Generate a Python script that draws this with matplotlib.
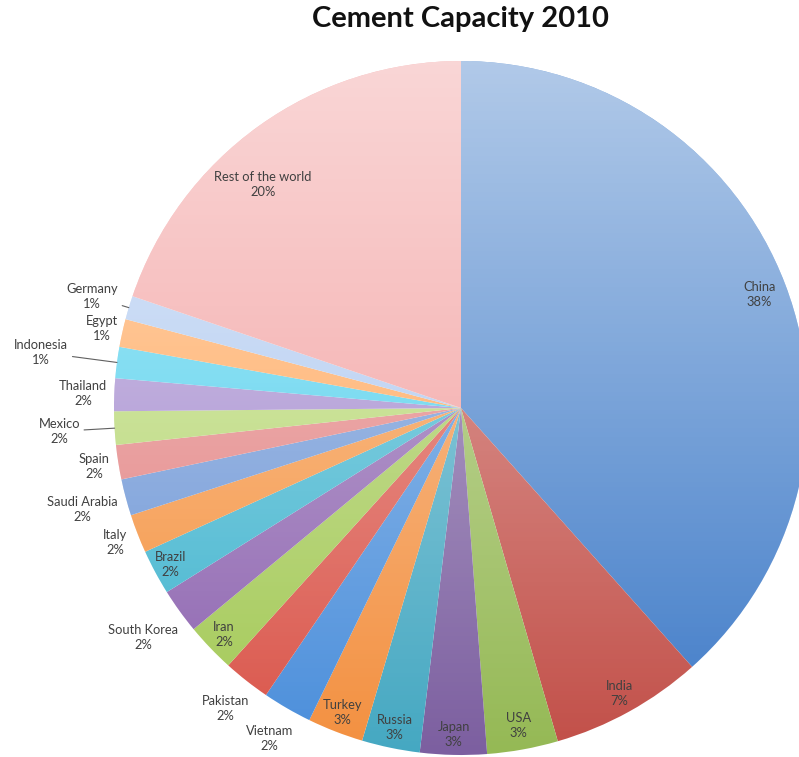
import numpy as np
import matplotlib
matplotlib.use("Agg")
import matplotlib.pyplot as plt
from matplotlib.patches import Circle

# cement capacity share by country, 2010 (% of world total)
countries = ["China", "India", "USA", "Japan", "Russia", "Turkey", "Vietnam",
             "Pakistan", "Iran", "South Korea", "Brazil", "Italy", "Saudi Arabia",
             "Spain", "Mexico", "Thailand", "Indonesia", "Egypt", "Germany",
             "Rest of the world"]
share = [38.4, 7.1, 3.3, 3.1, 2.7, 2.6, 2.3,
         2.2, 2.3, 2.1, 2.1, 1.8, 1.7,
         1.6, 1.55, 1.52, 1.45, 1.3, 1.1,
         19.78]

colors = ["#3f7bc8", "#c24f48", "#95b955", "#7c5fa0", "#45a8c2", "#f39040", "#4a8edb",
          "#da5449", "#a3c955", "#8c62af", "#3db3ce", "#f5913d", "#6993d5",
          "#e27e7e", "#b3d56b", "#9f84cc", "#47cdec", "#ffa150", "#a9c5ef",
          "#f29a9a"]

# label distance from centre (in radii), and which labels get a leader line
label_r = [0.92, 0.94, 0.93, 0.94, 0.94, 0.94, 1.10,
           1.10, 0.945, 1.13, 0.95, 1.07, 1.13,
           1.07, 1.16, 1.09, 1.22, 1.06, 1.11,
           0.86]
leaders = {"Mexico", "Indonesia", "Germany"}
angle_nudge = {"Rest of the world": 6}

plt.rcParams["font.family"] = ["Lato", "DejaVu Sans"]

W, H = 799, 757
cx, cy, R = 461, 408, 347
fig = plt.figure(figsize=(W / 100, H / 100), dpi=100)
ax = fig.add_axes([0, 0, 1, 1])

wedges, _ = ax.pie(share, colors=colors, startangle=90, counterclock=False,
                   radius=1, center=(0, 0), wedgeprops=dict(linewidth=0))

# vertical white wash: lighter at the top of the pie, full colour at the bottom
n = 400
yy = np.linspace(1, -1, n)
alpha = 0.6 * (yy + 1) / 2
wash = np.ones((n, 2, 4))
wash[:, :, 3] = alpha[:, None]
im = ax.imshow(wash, extent=(-1, 1, -1, 1), interpolation="bilinear", zorder=3)
im.set_clip_path(Circle((0, 0), 1, transform=ax.transData))

total = sum(share)
cum = 0.0
for name, val, r in zip(countries, share, label_r):
    mid = 90 - 360 * (cum + val / 2) / total + angle_nudge.get(name, 0)
    cum += val
    t = np.deg2rad(mid)
    pos = (r * np.cos(t), r * np.sin(t))
    txt = f"{name}\n{100 * val / total:.0f}%"
    if name in leaders:
        ax.annotate(txt, xy=(np.cos(t), np.sin(t)), xytext=pos,
                    ha="center", va="center", fontsize=9.3, color="#404040",
                    linespacing=1.3, zorder=5,
                    arrowprops=dict(arrowstyle="-", color="#606060", lw=0.8,
                                    shrinkA=1, shrinkB=0))
    else:
        ax.text(pos[0], pos[1], txt, ha="center", va="center", fontsize=9.3,
                color="#404040", linespacing=1.3, zorder=5)

ax.set_xlim(-cx / R, (W - cx) / R)
ax.set_ylim(-(H - cy) / R, cy / R)
ax.set_aspect("auto")
ax.axis("off")

fig.text(460 / W, 1 - 19 / H, "Cement Capacity 2010", ha="center", va="center",
         fontsize=21, fontweight="bold", color="#111111")

fig.savefig("out.png", dpi=100)
